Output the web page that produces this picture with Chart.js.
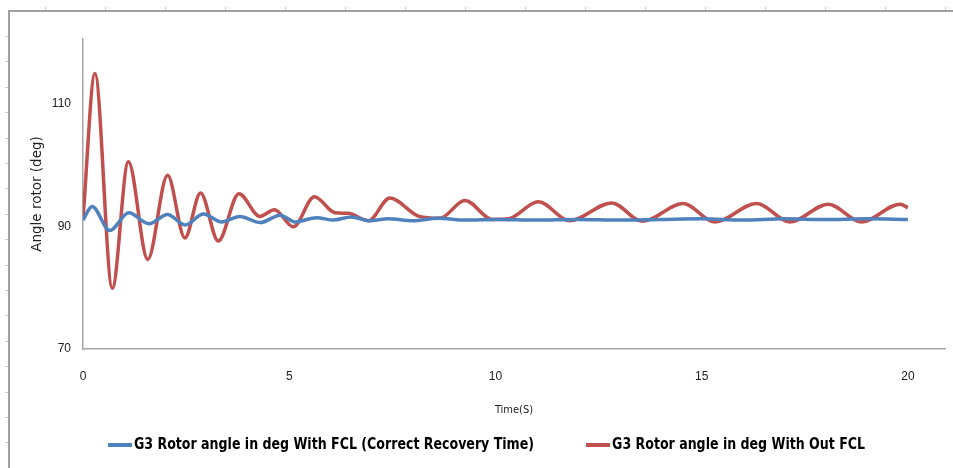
<!DOCTYPE html>
<html>
<head>
<meta charset="utf-8">
<script src="https://cdn.jsdelivr.net/npm/chart.js@4.4.1/dist/chart.umd.min.js"></script>
<style>
  html, body { margin: 0; padding: 0; background: #fff; }
</style>
</head>
<body>
<canvas id="rotor-angle-canvas" width="953" height="468"></canvas>
<script>
// values (time in s, angle in deg)
const withFclTime = [0, 0.22, 0.65, 1.11, 1.6, 2.05, 2.48, 2.92, 3.36, 3.8, 4.3, 4.78, 5.14, 5.66, 6.07, 6.5, 6.95, 7.4, 8.0, 8.6, 9.3, 10.0, 11.0, 12.0, 13.0, 14.0, 15.0, 16.0, 17.0, 18.0, 19.0, 20.0]
const withFclAngle = [91.0, 93.2, 89.3, 92.2, 90.4, 91.9, 90.2, 92.0, 90.7, 91.6, 90.6, 91.8, 90.7, 91.4, 91.0, 91.5, 90.9, 91.2, 90.9, 91.3, 91.0, 91.1, 91.0, 91.1, 91.0, 91.1, 91.2, 91.0, 91.2, 91.1, 91.2, 91.1]

const withoutFclTime = [0, 0.29, 0.71, 1.10, 1.57, 2.05, 2.47, 2.85, 3.28, 3.78, 4.29, 4.64, 5.10, 5.61, 6.11, 6.43, 6.92, 7.44, 8.15, 8.65, 9.26, 9.93, 10.31, 11.04, 11.80, 12.82, 13.56, 14.55, 15.32, 16.33, 17.14, 18.07, 18.88, 19.81, 20.0]
const withoutFclAngle = [91.3, 114.9, 79.9, 100.5, 84.6, 98.3, 88.1, 95.4, 87.6, 95.3, 91.6, 92.7, 89.9, 94.8, 92.2, 92.1, 90.9, 94.6, 91.6, 91.3, 94.2, 91.1, 91.2, 94.0, 90.9, 93.8, 90.8, 93.7, 90.7, 93.7, 90.7, 93.6, 90.7, 93.6, 93.0]

const seriesLabels = [
  'G3 Rotor angle in deg With FCL (Correct Recovery Time)',
  'G3 Rotor angle in deg With Out FCL'
]
const xTicks = [0, 5, 10, 15, 20]
const yTicks = [70, 90, 110]

const toPoints = (xs, ys) => xs.map((x, i) => ({ x, y: ys[i] }))

const NARROW = '"Liberation Sans Narrow", "DejaVu Sans Condensed", "Arial Narrow", sans-serif'

// the grey sheet border with its little ruler marks
const sheetFrame = {
  id: 'sheetFrame',
  beforeDraw(chart) {
    const { ctx, width, height } = chart
    ctx.save()
    ctx.fillStyle = '#fff'
    ctx.fillRect(0, 0, width, height)

    ctx.strokeStyle = '#c9c9dc'
    ctx.lineWidth = 1
    ctx.beginPath()
    for (let x = 45; x < width; x += 60) {
      ctx.moveTo(x + 0.5, 7)
      ctx.lineTo(x + 0.5, 10)
    }
    for (let y = 36; y < height; y += 25.4) {
      ctx.moveTo(5, Math.round(y) + 0.5)
      ctx.lineTo(8, Math.round(y) + 0.5)
    }
    ctx.stroke()

    ctx.strokeStyle = '#a0a0a0'
    ctx.lineWidth = 2
    ctx.beginPath()
    ctx.moveTo(9, height)
    ctx.lineTo(9, 11)
    ctx.lineTo(width, 11)
    ctx.stroke()
    ctx.restore()
  }
}

// Excel style legend: short thick line then label, laid out on one row.
// No narrow font here, so the text is squeezed a little to look like Arial Narrow.
const bottomLegend = {
  id: 'bottomLegend',
  afterDraw(chart, args, opts) {
    const { ctx } = chart
    ctx.save()
    ctx.font = opts.font
    ctx.textBaseline = 'middle'
    let x = opts.left
    chart.data.datasets.forEach((ds) => {
      ctx.fillStyle = ds.borderColor
      ctx.fillRect(x, opts.y - 2, 24, 4)
      x += 26
      ctx.save()
      ctx.translate(x, opts.y)
      ctx.scale(opts.squeeze, 1)
      ctx.fillStyle = '#000'
      ctx.fillText(ds.label, 0, 0)
      ctx.restore()
      x += ctx.measureText(ds.label).width * opts.squeeze + opts.gap
    })
    ctx.restore()
  }
}

new Chart(document.getElementById('rotor-angle-canvas'), {
  type: 'line',
  data: {
    datasets: [
      {
        label: seriesLabels[0],
        data: toPoints(withFclTime, withFclAngle),
        borderColor: '#4f81bd',
        borderWidth: 3.5
      },
      {
        label: seriesLabels[1],
        data: toPoints(withoutFclTime, withoutFclAngle),
        borderColor: '#c0504d',
        borderWidth: 3.5
      }
    ]
  },
  options: {
    responsive: false,
    animation: false,
    devicePixelRatio: 1,
    layout: { padding: { top: 39, right: 8, bottom: 44, left: 0 } },
    elements: {
      line: { cubicInterpolationMode: 'monotone', capBezierPoints: true },
      point: { radius: 0 }
    },
    plugins: {
      legend: { display: false },
      tooltip: { enabled: false },
      bottomLegend: { left: 108, y: 445, gap: 52, squeeze: 0.875, font: 'bold 16px ' + NARROW }
    },
    scales: {
      x: {
        type: 'linear',
        min: 0,
        max: 20.9,
        afterBuildTicks: (axis) => { axis.ticks = xTicks.map((v) => ({ value: v })) },
        afterFit: (axis) => { axis.height = 75 },
        grid: { display: false, drawTicks: false },
        border: { display: true, color: '#a6a6a6', width: 1.5 },
        ticks: {
          padding: 20,
          maxRotation: 0,
          color: '#222',
          font: { family: '"Liberation Sans", sans-serif', size: 12 }
        },
        title: {
          display: true,
          text: 'Time(S)',
          color: '#222',
          padding: { top: 0, bottom: 7 },
          font: { family: NARROW, size: 11 }
        }
      },
      y: {
        min: 70,
        max: 120.5,
        afterBuildTicks: (axis) => { axis.ticks = yTicks.map((v) => ({ value: v })) },
        afterFit: (axis) => { axis.width = 83 },
        grid: { display: false, drawTicks: false },
        border: { display: true, color: '#a6a6a6', width: 1.5 },
        ticks: {
          padding: 12,
          color: '#222',
          font: { family: '"Liberation Sans", sans-serif', size: 12 }
        },
        title: {
          display: true,
          text: 'Angle rotor (deg)',
          color: '#222',
          padding: { top: 29, bottom: 0 },
          font: { family: '"DejaVu Sans", sans-serif', size: 13.5 }
        }
      }
    }
  },
  plugins: [sheetFrame, bottomLegend]
})
</script>
</body>
</html>
